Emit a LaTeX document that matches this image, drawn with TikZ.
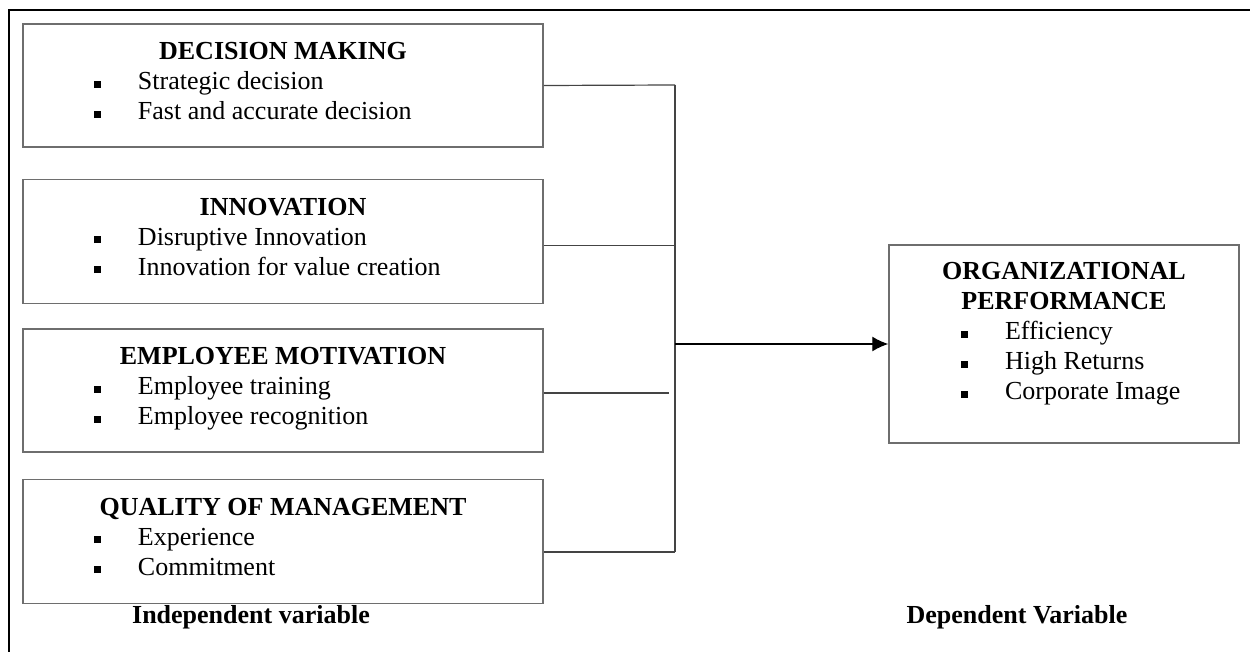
\documentclass[tikz,border=0pt]{standalone}
\usepackage{fontspec}
\setmainfont{Liberation Serif}
\usetikzlibrary{
	positioning,
	arrows.meta
}
\definecolor{boxcolor}{HTML}{6E6E6E}
\definecolor{linecolor}{HTML}{444444}
\tikzset{
	varbox/.style={
		draw=boxcolor,
		line width=0.75pt,
		rectangle,
		inner sep=0pt,
		minimum width=260pt,
		font=\fontsize{13pt}{15pt}\selectfont
	},
	dvbox/.style={
		varbox,
		minimum width=175pt
	},
	link/.style={
		draw=linecolor,
		line width=0.6pt
	},
	arrow/.style={
		-{Latex[length=8pt,width=7.5pt]},
		color=black,
		line width=0.6pt
	},
	caption/.style={
		anchor=base,
		font=\fontsize{13pt}{15pt}\selectfont\bfseries
	}
}
\newcommand{\bitem}[2][35.5pt]{\hspace*{#1}\makebox[22pt][l]{\rule[1.2pt]{3.4pt}{3.4pt}}#2\par}
\newcommand{\boxtitle}[2][18pt]{{\centering\bfseries\rule{0pt}{#1}#2\par}}

\begin{document}
\begin{tikzpicture}[x=0.5pt, y=-0.5pt]
		\useasboundingbox (0,0) rectangle (1250,652);
		
		% Frame
		\draw[line width=1pt] (9,660) -- (9,10) -- (1260,10);
		
		% Left side: independent variables
		\node[varbox] (dm) at (283,85.5)
		{\parbox[c][61.5pt][t]{260pt}{%
				\boxtitle{DECISION MAKING}
				\bitem{Strategic decision}
				\bitem{Fast and accurate decision}}};
		
		\node[varbox, below=15.5pt of dm] (im)
		{\parbox[c][62pt][t]{260pt}{%
				\boxtitle{INNOVATION}
				\bitem{Disruptive Innovation}
				\bitem{Innovation for value creation}}};
		
		\node[varbox, below=12pt of im] (em)
		{\parbox[c][61.5pt][t]{260pt}{%
				\boxtitle{EMPLOYEE MOTIVATION}
				\bitem{Employee training}
				\bitem{Employee recognition}}};
		
		\node[varbox, below=13pt of em] (qm)
		{\parbox[c][62pt][t]{260pt}{%
				\boxtitle{QUALITY OF MANAGEMENT}
				\bitem{Experience}
				\bitem{Commitment}}};
		
		% Right side: dependent variable
		\node[dvbox] (op) at (1064,344)
		{\parbox[c][99pt][t]{175pt}{%
				\boxtitle[17.5pt]{ORGANIZATIONAL\\PERFORMANCE}
				\bitem[36pt]{Efficiency}
				\bitem[36pt]{High Returns}
				\bitem[36pt]{Corporate Image}}};
		
		% Captions
		\node[caption] (indep) at (251,624) {Independent variable};
		\node[caption] (dep) at (1017,624) {Dependent Variable};
		
		% Trunk
		\coordinate (jt) at (675,85);
		\coordinate (jb) at (675,552);
		\coordinate (im-out) at ([yshift=-2pt]im.east);
		\coordinate (em-out) at ([yshift=-1.25pt]em.east);
		\coordinate (qm-out) at (qm.east |- jb);
		\coordinate (em-end) at ([xshift=-3pt]em-out -| jt);
		
		% Links
		\draw[link] (dm.east) -- (jt);
		\draw[link] (im-out) -- (im-out -| jt);
		\draw[link] (em-out) -- (em-end);
		\draw[link] (qm-out) -- (jb);
		\draw[link] (jt) -- (jb);
		
		% Arrow to output
		\draw[arrow] (op.west -| jt) -- (op.west);
		
	\end{tikzpicture}
\end{document}
